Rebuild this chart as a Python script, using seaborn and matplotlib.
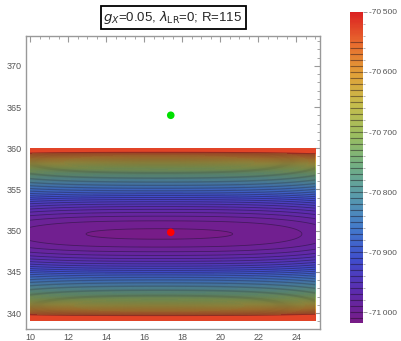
import numpy as np
import matplotlib
matplotlib.use("Agg")
import matplotlib.pyplot as plt
from matplotlib.colors import LinearSegmentedColormap, Normalize
from matplotlib.cm import ScalarMappable
from matplotlib.ticker import MultipleLocator, FuncFormatter
import seaborn as sns
import pandas as pd

# ---- data ----
x_range = [10.0, 25.0]            # data extent in x
y_range = [339.1, 360.0]          # data extent in y
centre = [16.8, 349.6]            # location of the minimum of the surface
min_value = [-71011.9]            # minimum value
y_coeffs = [4.7, 0.0]             # dy^2 and dy^4 coefficients
x_coeffs = [0.0976, 0.00203]      # dx^2 and dx^4 coefficients
levels = list(range(-71010, -70549, 10))
cbar_ticks = [-70500, -70600, -70700, -70800, -70900, -71000]
cbar_range = [-71018, -70500]
pt_x = [17.4, 17.4]
pt_y = [364.0, 349.8]
pt_color = ["#00e000", "#ff0000"]
title = r"$g_X$=0.05, $\lambda_{\rm LR}$=0; R=115"

sns.set_style("white")
plt.rcParams["font.family"] = ["Liberation Sans", "DejaVu Sans"]

rainbow = LinearSegmentedColormap.from_list("mrainbow", [
    (0.00, (0.471, 0.108, 0.527)),
    (0.10, (0.36, 0.17, 0.68)),
    (0.20, (0.25, 0.30, 0.80)),
    (0.30, (0.26, 0.47, 0.80)),
    (0.40, (0.34, 0.60, 0.68)),
    (0.50, (0.44, 0.68, 0.52)),
    (0.60, (0.60, 0.74, 0.38)),
    (0.70, (0.77, 0.74, 0.30)),
    (0.80, (0.88, 0.63, 0.22)),
    (0.90, (0.91, 0.42, 0.18)),
    (1.00, (0.86, 0.13, 0.13)),
])

xs = np.linspace(x_range[0], x_range[1], 301)
ys = np.linspace(y_range[0], y_range[1], 601)
X, Y = np.meshgrid(xs, ys)
dy = Y - centre[1]
dx = X - centre[0]
Z = (min_value[0] + y_coeffs[0] * dy**2 + y_coeffs[1] * dy**4
     + x_coeffs[0] * dx**2 + x_coeffs[1] * dx**4)
Z = np.minimum(Z, cbar_range[1] - 0.5)

fig = plt.figure(figsize=(4.01, 3.41), dpi=100)
ax = fig.add_axes([0.065, 0.035, 0.733, 0.859])
cax = fig.add_axes([0.873, 0.053, 0.031, 0.912])

norm = Normalize(vmin=cbar_range[0], vmax=cbar_range[1])
fill_levels = [cbar_range[0]] + levels + [cbar_range[1]]
line_col = (0.1, 0.05, 0.1, 0.45)
cf = ax.contourf(X, Y, Z, levels=fill_levels, cmap=rainbow, norm=norm)
cs = ax.contour(X, Y, Z, levels=levels, colors=[line_col],
                linewidths=0.6, linestyles="solid")

pts = pd.DataFrame({"x": pt_x, "y": pt_y, "c": pt_color})
sns.scatterplot(data=pts, x="x", y="y", hue="c", palette=dict(zip(pt_color, pt_color)),
                s=30, edgecolor="none", legend=False, ax=ax, zorder=5)

ax.set_xlim(9.79, 25.25)
ax.set_ylim(338.06, 373.6)
ax.set_xlabel("")
ax.set_ylabel("")
ax.xaxis.set_major_locator(MultipleLocator(2))
ax.xaxis.set_minor_locator(MultipleLocator(0.5))
ax.yaxis.set_major_locator(MultipleLocator(5))
ax.yaxis.set_minor_locator(MultipleLocator(1))
gray = "#999999"
for sp in ax.spines.values():
    sp.set_color(gray)
    sp.set_linewidth(1.0)
ax.tick_params(which="both", direction="in", top=True, right=True, color=gray,
               labelcolor="#555555", labelsize=6.5, pad=3)
ax.tick_params(which="major", length=4, width=0.8)
ax.tick_params(which="minor", length=2, width=0.6)

ax.text(0.5, 1.065, title, transform=ax.transAxes, ha="center", va="center",
        fontsize=9.5,
        bbox=dict(boxstyle="square,pad=0.22", facecolor="white", edgecolor="black", linewidth=1.3))

sm = ScalarMappable(norm=norm, cmap=rainbow)
cb = fig.colorbar(sm, cax=cax, ticks=cbar_ticks)
cax.hlines(levels, 0, 1, colors=[line_col], linewidths=0.8, transform=cax.get_yaxis_transform())
cb.outline.set_visible(False)
cb.ax.yaxis.set_minor_locator(MultipleLocator(20))
cb.ax.tick_params(which="both", direction="out", color=gray, labelcolor="#555555",
                  labelsize=6, pad=1.5)
cb.ax.tick_params(which="major", length=3, width=0.7)
cb.ax.tick_params(which="minor", length=1.5, width=0.5)
cb.ax.yaxis.set_major_formatter(FuncFormatter(
    lambda v, p: ("-" if v < 0 else "") + f"{abs(int(round(v))):,}".replace(",", "\u2009")))

fig.savefig("out.png", dpi=100)
